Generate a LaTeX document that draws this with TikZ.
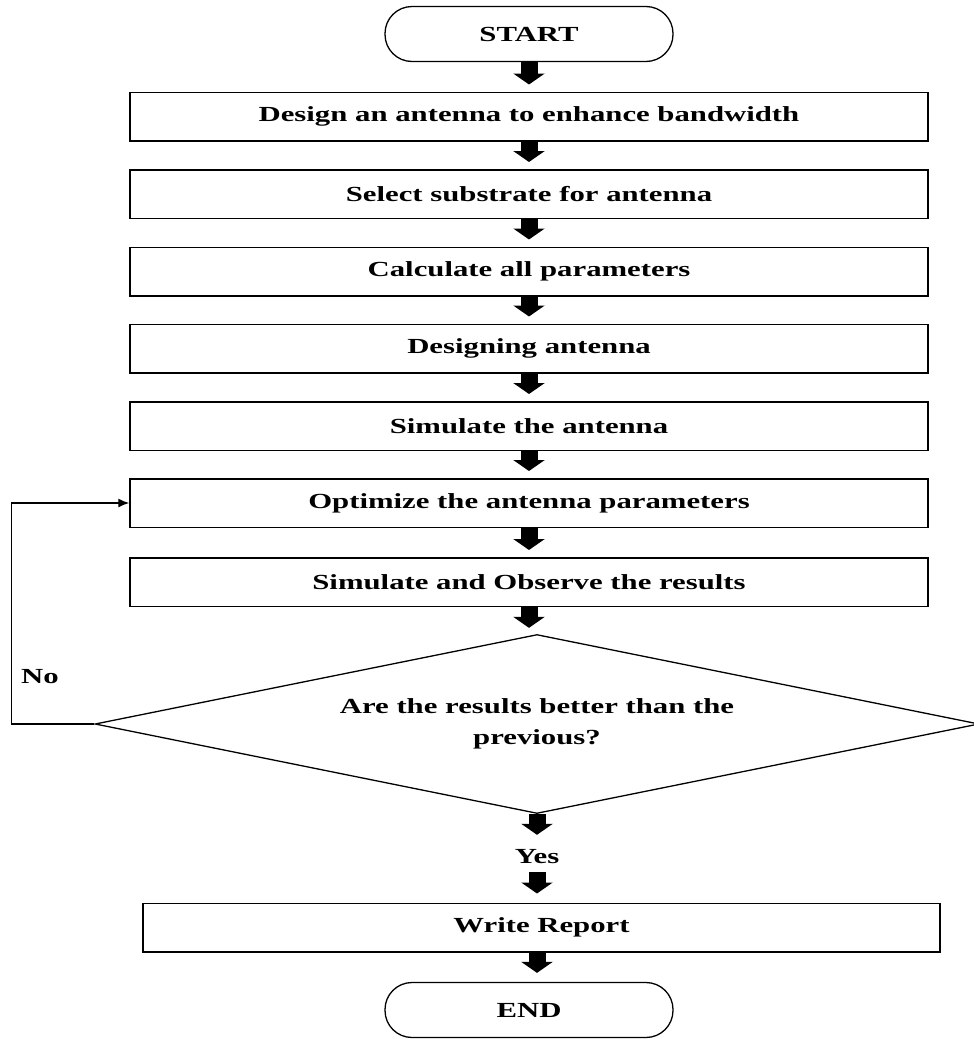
\documentclass[tikz,border=0pt]{standalone}
\usepackage{fontspec}
\setmainfont{Liberation Serif}
\usepackage{graphicx}
\usepackage{tikz}
\usetikzlibrary{arrows.meta,shapes,calc}
\newcommand{\wide}[1]{\scalebox{1.43}[1]{#1}}
\tikzstyle{terminal} = [rectangle,rounded corners=27pt,draw,line width=1.3pt,minimum width=288pt,minimum height=55pt]
\tikzstyle{process}  = [rectangle,draw,line width=1.5pt,minimum width=798pt,minimum height=48.5pt]
\tikzstyle{decision} = [diamond,draw,line width=1.3pt,aspect=4.9,minimum width=884pt,minimum height=179pt,inner sep=0pt]
\tikzstyle{fat} = [line width=17pt,-{Triangle[length=11pt,width=31pt]},shorten >=7pt]

\begin{document}
\begin{tikzpicture}[x=1pt,y=-1pt, every node/.style={font=\fontsize{21.5}{31}\selectfont\bfseries}]
	\useasboundingbox (0,0) rectangle (974,1039);
	
	\node[terminal] (start) at (529,34) {\wide{START}};
	\node[process] (b1) at (529,116.5) {\wide{Design an antenna to enhance bandwidth}};
	\node[process] (b2) at (529,194) {\wide{Select substrate for antenna}};
	\node[process] (b3) at (529,271.5) {\wide{Calculate all parameters}};
	\node[process] (b4) at (529,348.5) {\wide{Designing antenna}};
	\node[process] (b5) at (529,426) {\wide{Simulate the antenna}};
	\node[process] (b6) at (529,503) {\wide{Optimize the antenna parameters}};
	\node[process] (b7) at (529,582) {\wide{Simulate and Observe the results}};
	
	\node[decision,align=center] (dec) at (537,724) {\wide{Are the results better than the}\\\wide{previous?}};
	\node[inner sep=0pt,minimum height=30pt] (yes) at (537,857) {\wide{Yes}};
	\node[process,minimum width=797pt] (rep) at (541.5,927.5) {\wide{Write Report}};
	\node[terminal] (end) at (529,1010) {\wide{END}};
	\node (no) at (40,677) {\wide{No}};
	
	
	\draw[fat] (start.south) -- (start.south |- b1.north);
	\draw[fat] (b1.south) -- (b2.north);
	\draw[fat] (b2.south) -- (b3.north);
	\draw[fat] (b3.south) -- (b4.north);
	\draw[fat] (b4.south) -- (b5.north);
	\draw[fat] (b5.south) -- (b6.north);
	\draw[fat] (b6.south) -- (b7.north);
	\draw[fat,shorten >=6pt] (b7.south) -- (b7.south |- dec.north);
	
	\draw[fat] (dec.south) -- (yes.north);
	\draw[fat,shorten >=9pt] (yes.south) -- (yes.south |- rep.north);
	\draw[fat,shorten >=9pt] (yes.south |- rep.south) -- (yes.south |- end.north);
	
	\draw[line width=1.3pt,-{Latex[length=11pt,width=9pt]}] (dec.west) -- ++(-83,0) |- (b6.west);
\end{tikzpicture}
\end{document}
